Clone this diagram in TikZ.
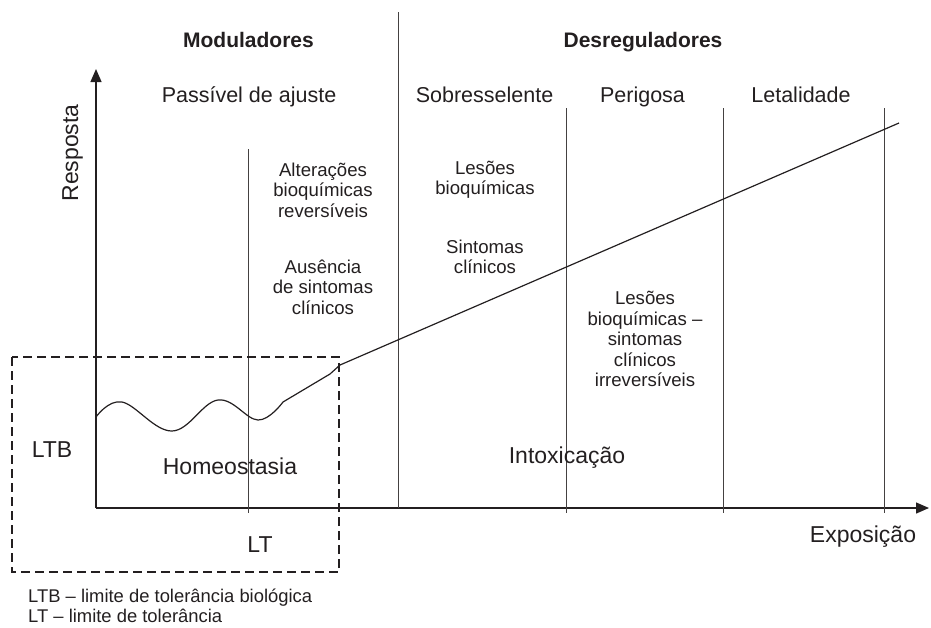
\documentclass[tikz,border=0pt]{standalone}
\usepackage{fontspec}
\setmainfont{Liberation Sans}
\usetikzlibrary{arrows.meta}
\definecolor{ink}{HTML}{231F20}
\begin{document}
\begin{tikzpicture}[x=1pt,y=-1pt,
  axisline/.style={draw=ink, line width=1.3pt, -{Triangle[length=13pt,width=11pt]}},
  vline/.style={draw=ink!85, line width=1pt},
  curveline/.style={draw=ink, line width=1.2pt, line join=round},
  dashbox/.style={draw=ink, line width=1.1pt, dash pattern=on 9pt off 5pt},
  headtxt/.style={text=ink, inner sep=0pt, anchor=base, font=\fontsize{21}{24}\bfseries\selectfont},
  zonetxt/.style={text=ink, inner sep=0pt, anchor=base, font=\fontsize{21.5}{24}\selectfont},
  bigtxt/.style={text=ink, inner sep=0pt, anchor=base, font=\fontsize{23}{26}\selectfont},
  smalltxt/.style={text=ink, inner sep=0pt, align=center, font=\fontsize{18.6}{20.5}\selectfont},
  legtxt/.style={text=ink, inner sep=0pt, anchor=base west, font=\fontsize{18.4}{21}\selectfont}
]
\useasboundingbox (0,0) rectangle (931,627);

% axes
\coordinate (O) at (96,508);
\coordinate (ytip) at (96,69);
\coordinate (xtip) at (929,508);
\draw[axisline] (O) -- (ytip);
\draw[axisline] (O) -- (xtip);

% vertical lines
\coordinate (l1t) at (248,149); \coordinate (l1b) at (248,513);
\coordinate (l2t) at (398,12);  \coordinate (l2b) at (398,508);
\coordinate (l3t) at (566,108); \coordinate (l3b) at (566,513);
\coordinate (l4t) at (723,108); \coordinate (l4b) at (723,513);
\coordinate (l5t) at (884,108); \coordinate (l5b) at (884,513);
\draw[vline] (l1t) -- (l1b);
\draw[vline] (l2t) -- (l2b);
\draw[vline] (l3t) -- (l3b);
\draw[vline] (l4t) -- (l4b);
\draw[vline] (l5t) -- (l5b);

% dashed box
\coordinate (bx1) at (12,357);
\coordinate (bx2) at (339,572);
\draw[dashbox] (bx1) rectangle (bx2);

% response curve
\coordinate (c1) at (330,374);
\coordinate (c2) at (340,365);
\coordinate (cend) at (899,123);
\draw[curveline] plot[smooth, tension=0.65] coordinates {(96,417) (122,402) (172,431) (218,400) (258,420) (283,402)} -- (c1) -- (c2) -- (cend);

% headers
\node[headtxt] (mod) at (248.5,47.5) {Moduladores};
\node[headtxt] (desr) at (643,47.5) {Desreguladores};
\node[zonetxt] (pass) at (249,102) {Passível de ajuste};
\node[zonetxt] (sobr) at (484.5,102) {Sobresselente};
\node[zonetxt] (peri) at (642.5,102) {Perigosa};
\node[zonetxt] (leta) at (801,102) {Letalidade};

% axis labels
\node[bigtxt, rotate=90] (resp) at (78,153) {Resposta};
\node[bigtxt] (expo) at (863,542) {Exposição};
\node[bigtxt] (ltb) at (52,457) {LTB};
\node[bigtxt] (lt) at (260,552) {LT};
\node[bigtxt] (homeo) at (230,474) {Homeostasia};
\node[bigtxt] (intox) at (567,463) {Intoxicação};

% small texts
\node[smalltxt] (alt) at (323,190) {Alterações\\bioquímicas\\reversíveis};
\node[smalltxt] (aus) at (323,287) {Ausência\\de sintomas\\clínicos};
\node[smalltxt] (les1) at (485,180) {Lesões\\bioquímicas};
\node[smalltxt] (sint) at (485,257) {Sintomas\\clínicos};
\node[smalltxt] (les2) at (645,339) {Lesões\\bioquímicas –\\sintomas\\clínicos\\irreversíveis};

% legend
\node[legtxt] (leg1) at (28,602) {LTB – limite de tolerância biológica};
\node[legtxt] (leg2) at (28,622.5) {LT – limite de tolerância};
\end{tikzpicture}
\end{document}
